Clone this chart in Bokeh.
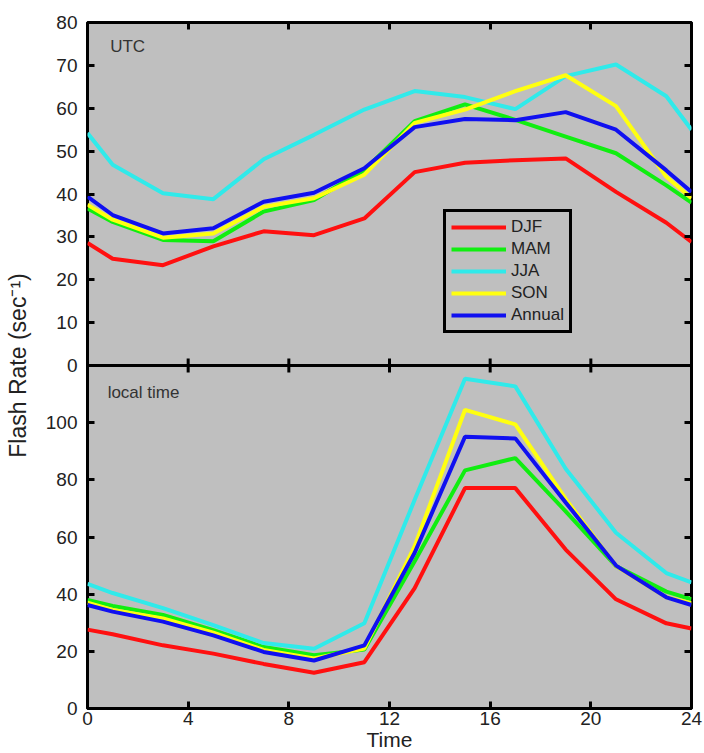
import math
from bokeh.plotting import figure
from bokeh.models import (Range1d, LinearAxis, FixedTicker, Span, Legend,
                          LegendItem, Label)
from bokeh.embed import file_html
from bokeh.resources import INLINE

# ---------------- data ----------------
hours = [0, 1, 3, 5, 7, 9, 11, 13, 15, 17, 19, 21, 23, 24]

series_names = ["DJF", "MAM", "JJA", "SON", "Annual"]
series_colors = ["#ff1010", "#10ee10", "#30eaea", "#ffff10", "#1010f0"]

utc_djf = [28.6, 24.9, 23.4, 27.8, 31.3, 30.4, 34.3, 45.1, 47.3, 47.9, 48.3, 40.5, 33.3, 28.8]
utc_mam = [36.6, 33.5, 29.3, 29.0, 35.9, 38.6, 45.6, 57.0, 60.9, 57.3, 53.4, 49.5, 42.0, 38.0]
utc_jja = [54.2, 46.8, 40.2, 38.8, 48.1, 53.8, 59.7, 64.0, 62.6, 59.8, 67.5, 70.2, 62.8, 55.0]
utc_son = [37.5, 34.0, 29.8, 30.8, 37.0, 39.0, 44.5, 56.6, 59.7, 64.0, 67.7, 60.5, 44.0, 39.0]
utc_annual = [39.4, 35.1, 30.8, 32.0, 38.2, 40.3, 46.0, 55.6, 57.5, 57.2, 59.1, 55.0, 45.5, 40.5]

local_djf = [27.6, 26.0, 22.1, 19.2, 15.6, 12.5, 16.2, 42.1, 77.1, 77.1, 55.6, 38.2, 29.8, 28.0]
local_mam = [38.0, 35.9, 32.7, 27.4, 21.5, 18.6, 20.6, 51.5, 83.3, 87.6, 69.0, 49.8, 40.9, 38.2]
local_jja = [43.6, 40.4, 35.1, 29.2, 22.9, 20.9, 29.8, 73.0, 115.4, 112.7, 83.9, 61.5, 47.4, 44.1]
local_son = [37.0, 34.5, 31.5, 26.5, 20.5, 17.5, 21.0, 56.8, 104.5, 99.4, 73.3, 49.8, 38.9, 36.8]
local_annual = [36.2, 33.9, 30.4, 25.6, 19.8, 16.8, 22.1, 54.5, 95.1, 94.5, 72.1, 50.0, 38.9, 36.2]

utc_series = [utc_djf, utc_mam, utc_jja, utc_son, utc_annual]
local_series = [local_djf, local_mam, local_jja, local_son, local_annual]

x_ticks = [0, 4, 8, 12, 16, 20, 24]
utc_ticks = [0, 10, 20, 30, 40, 50, 60, 70, 80]
local_ticks = [0, 20, 40, 60, 80, 100]

x_label = "Time"
y_label = "Flash Rate (sec\u207b\u00b9)"
utc_title = "UTC"
local_title = "local time"

# ---------------- figure ----------------
FONT = "Liberation Sans"
BG = "#bfbfbf"
TXT = "#222222"

local_range = Range1d(0, 240)      # lower half: 0..120
utc_range = Range1d(-80, 80)       # upper half: 0..80

p = figure(width=704, height=753, output_backend="svg", toolbar_location=None,
           x_range=Range1d(0, 24), y_range=local_range,
           x_axis_location=None, y_axis_location=None,
           min_border_left=87, min_border_right=13,
           min_border_top=22, min_border_bottom=45)
p.extra_y_ranges = {"utc": utc_range}
p.background_fill_color = BG
p.border_fill_color = "white"
p.outline_line_color = "black"
p.outline_line_width = 3
p.grid.visible = False


def utc_to_local(v):
    frac = (v - utc_range.start) / (utc_range.end - utc_range.start)
    return local_range.start + frac * (local_range.end - local_range.start)


y_positions = [float(t) for t in local_ticks] + [float(utc_to_local(t)) for t in utc_ticks]
y_overrides = {float(t): str(t) for t in local_ticks}
y_overrides.update({float(utc_to_local(t)): str(t) for t in utc_ticks})


def style_axis(ax, show_labels):
    ax.axis_line_color = None
    ax.major_tick_in = 7
    ax.major_tick_out = 0
    ax.major_tick_line_width = 3
    ax.major_tick_line_color = "black"
    ax.minor_tick_line_color = None
    if show_labels:
        ax.major_label_text_font = FONT
        ax.major_label_text_font_size = "19px"
        ax.major_label_text_color = TXT
        ax.major_label_standoff = 10
    else:
        ax.major_label_text_font_size = "0px"
        ax.major_label_standoff = 0
        ax.major_label_text_color = None


left = LinearAxis(ticker=FixedTicker(ticks=y_positions), major_label_overrides=y_overrides)
style_axis(left, True)
left.axis_label = y_label
left.axis_label_text_font = FONT
left.axis_label_text_font_size = "23px"
left.axis_label_text_font_style = "normal"
left.axis_label_text_color = TXT
left.axis_label_standoff = 12
p.add_layout(left, "left")

right = LinearAxis(ticker=FixedTicker(ticks=y_positions))
style_axis(right, False)
p.add_layout(right, "right")

bottom = LinearAxis(ticker=FixedTicker(ticks=x_ticks))
style_axis(bottom, True)
bottom.axis_label = x_label
bottom.axis_label_text_font = FONT
bottom.axis_label_text_font_size = "21px"
bottom.axis_label_text_font_style = "normal"
bottom.axis_label_text_color = TXT
bottom.axis_label_standoff = 0
bottom.major_label_standoff = 3
p.add_layout(bottom, "below")

top = LinearAxis(ticker=FixedTicker(ticks=x_ticks))
style_axis(top, False)
p.add_layout(top, "above")

# divider between the two panels
p.add_layout(Span(location=0, dimension="width", y_range_name="utc",
                  line_color="black", line_width=3))
# ticks on the divider (both directions)
p.scatter(x=x_ticks[1:-1], y=[0] * (len(x_ticks) - 2), y_range_name="utc",
          marker="dash", angle=math.pi / 2, size=14,
          line_color="black", line_width=3)

# ---------------- lines ----------------
items = []
for name, color, ys in zip(series_names, series_colors, utc_series):
    r = p.line(hours, ys, y_range_name="utc", line_color=color, line_width=4)
    items.append(LegendItem(label=name, renderers=[r]))
for name, color, ys in zip(series_names, series_colors, local_series):
    p.line(hours, ys, line_color=color, line_width=4)

legend = Legend(items=items, location=(356, 375))
legend.border_line_color = "black"
legend.border_line_alpha = 1.0
legend.border_line_width = 3
legend.background_fill_alpha = 0
legend.label_text_font = FONT
legend.label_text_font_size = "17px"
legend.label_text_color = TXT
legend.glyph_width = 55
legend.glyph_height = 20
legend.label_height = 20
legend.spacing = 2
legend.padding = 5
legend.margin = 0
legend.label_standoff = 5
p.add_layout(legend)

p.add_layout(Label(x=0.9, y=74.5, y_range_name="utc", text=utc_title,
                   text_font=FONT, text_font_size="17px", text_color="#333333",
                   text_baseline="middle"))
p.add_layout(Label(x=0.8, y=110.5, text=local_title,
                   text_font=FONT, text_font_size="17px", text_color="#333333",
                   text_baseline="middle"))

open("out.html", "w").write(file_html(p, INLINE))
